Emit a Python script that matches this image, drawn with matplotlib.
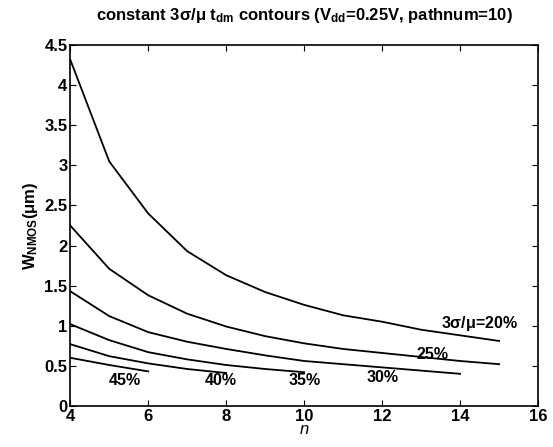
import matplotlib
matplotlib.use("Agg")
import matplotlib.pyplot as plt

plt.rcParams['font.family'] = ['Liberation Sans', 'DejaVu Sans']
plt.rcParams['mathtext.default'] = 'regular'

# contour curves: n vs W_NMOS (um)
n20 = [4, 5, 6, 7, 8, 9, 10, 11, 12, 13, 14, 15]
w20 = [4.32, 3.05, 2.40, 1.93, 1.63, 1.42, 1.26, 1.13, 1.05, 0.95, 0.88, 0.81]
n25 = [4, 5, 6, 7, 8, 9, 10, 11, 12, 13, 14, 15]
w25 = [2.25, 1.71, 1.38, 1.15, 0.99, 0.87, 0.78, 0.71, 0.66, 0.61, 0.56, 0.52]
n30 = [4, 5, 6, 7, 8, 9, 10, 11, 12, 13, 14]
w30 = [1.43, 1.12, 0.92, 0.80, 0.71, 0.63, 0.56, 0.52, 0.48, 0.44, 0.40]
n35 = [4, 5, 6, 7, 8, 9, 10]
w35 = [1.02, 0.82, 0.67, 0.58, 0.51, 0.46, 0.42]
n40 = [4, 5, 6, 7, 8]
w40 = [0.77, 0.62, 0.53, 0.46, 0.41]
n45 = [4, 5, 6]
w45 = [0.60, 0.51, 0.43]

labels = ['3$\\sigma$/$\\mu$=20%', '25%', '30%', '35%', '40%', '45%']
label_x = [14.5, 13.3, 12.0, 10.0, 7.85, 5.4]
label_y = [1.03, 0.64, 0.35, 0.32, 0.32, 0.32]

fig = plt.figure(figsize=(5.53, 4.47), dpi=100)
ax = fig.add_axes([0.127, 0.092, 0.846, 0.807])

for n, w in [(n20, w20), (n25, w25), (n30, w30), (n35, w35), (n40, w40), (n45, w45)]:
    ax.plot(n, w, color='black', lw=1.3)

for lab, lx, ly in zip(labels, label_x, label_y):
    ax.text(lx, ly, lab, ha='center', va='center', fontsize=11.5, fontweight='bold')

ax.set_xlim(4, 16)
ax.set_ylim(0, 4.5)
ax.set_xticks([4, 6, 8, 10, 12, 14, 16])
ax.set_yticks([0, 0.5, 1, 1.5, 2, 2.5, 3, 3.5, 4, 4.5])
ax.set_yticklabels(['0', '0.5', '1', '1.5', '2', '2.5', '3', '3.5', '4', '4.5'])
ax.tick_params(direction='in', top=True, right=True, length=4, width=0.8,
               labelsize=12, pad=2)
for lab in ax.get_xticklabels() + ax.get_yticklabels():
    lab.set_fontweight('bold')
for s in ax.spines.values():
    s.set_linewidth(1.2)

ax.set_xlabel('n', fontsize=12, fontstyle='italic', labelpad=-1)
ax.set_ylabel('W$_{NMOS}$($\\mu$m)', fontsize=12, fontweight='bold', labelpad=3)
ax.set_title('constant 3$\\sigma$/$\\mu$ t$_{dm}$ contours (V$_{dd}$=0.25V, pathnum=10)',
             fontsize=12, fontweight='bold', pad=18)

fig.savefig('out.png', dpi=100)
